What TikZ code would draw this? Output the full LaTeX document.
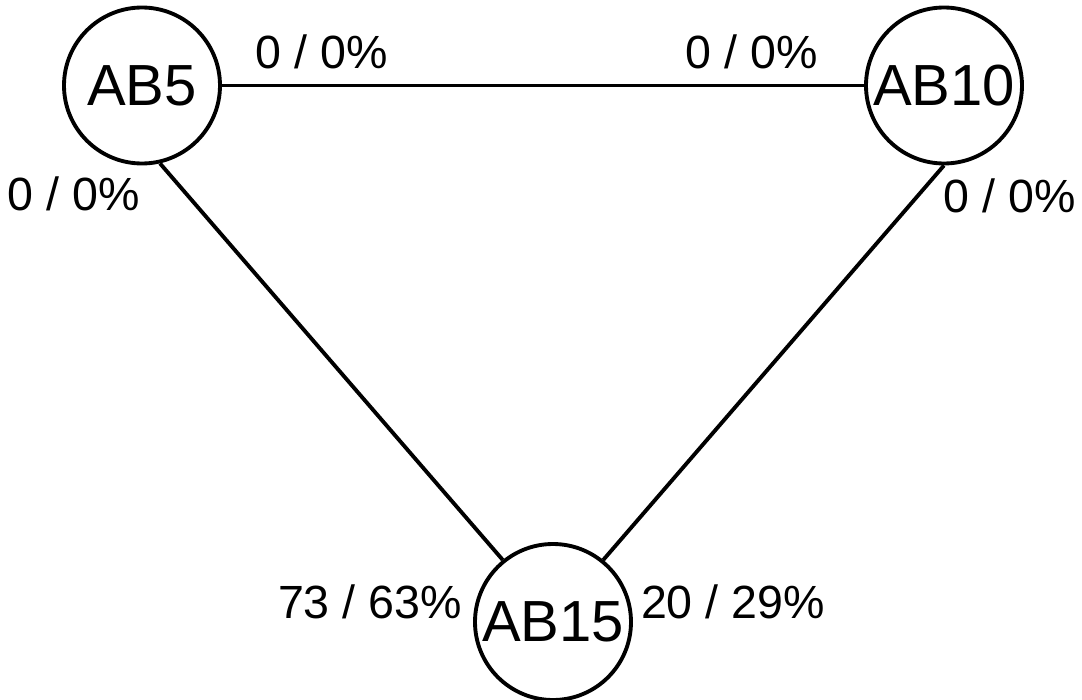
\documentclass[tikz,border=0pt]{standalone}
\usepackage{fontspec}
\setmainfont{Liberation Sans}
\usetikzlibrary{positioning}

\begin{document}
\begin{tikzpicture}[
  ab/.style={
    circle,
    draw,
    line width=2.2pt,
    minimum size=3.12cm,
    inner sep=0pt,
    font=\fontsize{33}{36}\selectfont
  },
  edge/.style={
    line width=2.2pt
  },
  cnt/.style={
    inner sep=0pt,
    font=\fontsize{26.5}{30}\selectfont
  }
]

\useasboundingbox (0,0) rectangle (21.64,-14);

% =========================================================
% NODOS
% =========================================================

\node[ab] (ab5) at (2.84,-1.71) {AB5};

\node[ab] (ab10) at (18.88,-1.71) {AB10};

\node[ab] (ab15) at (11.06,-12.44) {AB15};


% =========================================================
% ARISTAS
% =========================================================

\draw[edge]
  (ab5) -- (ab10);

\draw[edge]
  (ab5.-77) -- (ab15.129);

\draw[edge]
  (ab10.-90) -- (ab15.51);


% =========================================================
% ETIQUETAS
% =========================================================

\node[cnt] (l5a) at (6.44,-1.04) {0 / 0\%};

\node[cnt] (l10a) at (15.04,-1.04) {0 / 0\%};

\node[cnt] (l5b) at (1.48,-3.88) {0 / 0\%};

\node[cnt] (l10b) at (20.20,-3.92) {0 / 0\%};

\node[cnt] (l15a) at (7.40,-12.04) {73 / 63\%};

\node[cnt] (l15b) at (14.66,-12.04) {20 / 29\%};

\end{tikzpicture}
\end{document}
